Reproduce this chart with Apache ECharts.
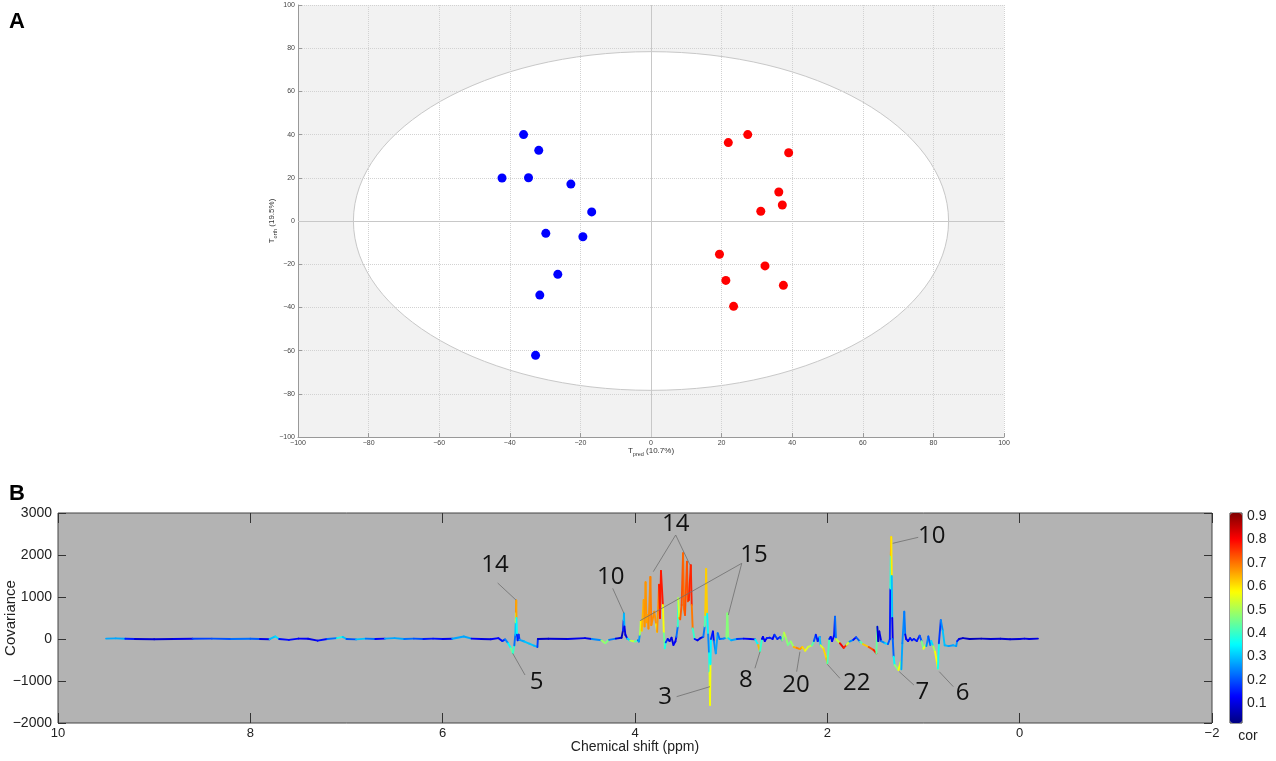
<!DOCTYPE html>
<html>
<head>
<meta charset="utf-8">
<title>OPLS-DA scores and loadings</title>
<script src="https://cdn.jsdelivr.net/npm/echarts@6/dist/echarts.min.js"></script>
<style>
  html, body { margin: 0; padding: 0; background: #fff; }
  #chart { width: 1276px; height: 761px; }
</style>
</head>
<body>
<div id="chart"></div>
<script>
// panel A: scores
var blueTpred = [-36.1, -31.8, -42.2, -34.7, -22.7, -16.8, -29.8, -19.3, -26.4, -31.5, -32.7];
var blueTorth = [40.0, 32.7, 19.9, 20.0, 17.1, 4.2, -5.7, -7.3, -24.7, -34.3, -62.2];
var redTpred = [27.4, 21.9, 39.0, 36.2, 37.2, 31.1, 19.4, 32.3, 21.2, 37.5, 23.4];
var redTorth = [40.0, 36.3, 31.6, 13.4, 7.4, 4.5, -15.4, -20.8, -27.5, -29.8, -39.5];
var ellipseCenter = [0, 0];
var ellipseRadii = [84.3, 78.4];

// panel B: covariance coloured by correlation
var shift = [9.50, 9.40, 9.30, 9.20, 9.00, 8.80, 8.60, 8.40, 8.20, 8.00, 7.90, 7.80, 7.74, 7.70, 7.60, 7.50, 7.40, 7.30, 7.20, 7.10,
  7.04, 7.00, 6.90, 6.80, 6.70, 6.60, 6.50, 6.40, 6.30, 6.20, 6.10, 6.00, 5.90, 5.78, 5.70, 5.60, 5.50, 5.42, 5.38, 5.35,
  5.32, 5.29, 5.27, 5.255, 5.245, 5.24, 5.238, 5.235, 5.232, 5.228, 5.22, 5.21, 5.20, 5.15, 5.10, 5.05, 5.015, 5.01, 4.90, 4.70,
  4.52, 4.45, 4.35, 4.31, 4.27, 4.20, 4.14, 4.125, 4.118, 4.115, 4.11, 4.10, 4.08, 4.05, 4.00, 3.97, 3.96, 3.95, 3.94, 3.93,
  3.91, 3.90, 3.89, 3.88, 3.87, 3.86, 3.84, 3.83, 3.80, 3.78, 3.77, 3.75, 3.74, 3.73, 3.71, 3.70, 3.69, 3.68, 3.66, 3.64,
  3.62, 3.60, 3.58, 3.57, 3.555, 3.55, 3.54, 3.53, 3.515, 3.50, 3.49, 3.48, 3.46, 3.45, 3.44, 3.42, 3.41, 3.40, 3.38, 3.35,
  3.32, 3.29, 3.275, 3.27, 3.26, 3.25, 3.24, 3.23, 3.225, 3.22, 3.215, 3.21, 3.19, 3.18, 3.16, 3.14, 3.12, 3.08, 3.05, 3.04,
  3.03, 3.00, 2.94, 2.87, 2.80, 2.75, 2.72, 2.70, 2.68, 2.67, 2.65, 2.63, 2.60, 2.57, 2.55, 2.52, 2.49, 2.47, 2.45, 2.43,
  2.41, 2.38, 2.35, 2.32, 2.285, 2.26, 2.23, 2.20, 2.16, 2.14, 2.12, 2.10, 2.08, 2.07, 2.04, 2.01, 2.00, 1.98, 1.965, 1.95,
  1.93, 1.92, 1.91, 1.87, 1.83, 1.80, 1.77, 1.73, 1.70, 1.66, 1.63, 1.57, 1.52, 1.49, 1.48, 1.47, 1.46, 1.44, 1.40, 1.37,
  1.35, 1.345, 1.34, 1.335, 1.33, 1.325, 1.32, 1.31, 1.30, 1.26, 1.24, 1.23, 1.22, 1.20, 1.19, 1.18, 1.16, 1.14, 1.12, 1.10,
  1.07, 1.04, 1.02, 1.00, 0.98, 0.97, 0.95, 0.93, 0.92, 0.90, 0.88, 0.86, 0.85, 0.84, 0.82, 0.80, 0.78, 0.74, 0.69, 0.66,
  0.65, 0.63, 0.59, 0.52, 0.40, 0.30, 0.20, 0.10, 0.00, -0.05, -0.10, -0.19];
var covariance = [10, 15, 5, 0, -5, 0, 5, 10, 0, 5, 0, -5, 60, 0, -20, 10, 5, -40, 0, 20,
  50, 0, -10, 10, 0, 10, 20, 0, 10, 0, 10, 0, 5, 60, 10, 0, -5, 20, -50, -10,
  -100, -220, -340, -150, 100, 400, 650, 920, 500, 100, -30, 100, -20, -60, -110, -160, -190, 0, 5, 0,
  20, 0, -30, -100, -20, 10, 30, 200, 450, 610, 300, 100, 10, -40, -60, -30, -60, 100, 420, 200,
  930, 300, 1350, 400, 570, 250, 1480, 330, 650, 350, 170, 1290, 500, 1620, 810, 140, -220, -80, 0, -50,
  30, -140, -60, 50, 300, 970, 500, 470, 810, 2040, 700, 570, 1840, 900, 930, 1760, 810, 250, 0, -30,
  20, 50, 300, 570, 1670, 600, 110, -340, -800, -1570, -600, 0, 180, -50, -340, 140, 0, 10, 30, 610,
  20, -30, 0, 10, 0, -10, -140, -300, 0, 50, -50, 20, 30, 0, 100, 0, 50, -30, 150, 20,
  -140, -60, -190, -210, -240, -190, -280, -190, -150, -50, 100, -50, 50, -150, -230, -460, -580, 0, 50, -50,
  80, 530, 0, -100, -210, -140, -60, -20, 40, -60, -120, -190, -260, -340, 290, -50, 180, -50, -100, -120,
  0, 1200, 2000, 2430, 1500, 500, 0, -420, -620, -740, -560, -720, -100, 650, 110, 0, -50, 20, -30, 0,
  -50, 80, -50, -230, -150, -170, 60, -140, -50, -170, -300, -560, -710, -100, 450, 200, -150, -170, -150, -170,
  -50, 0, 20, 0, 10, 0, 5, -5, 0, 10, 0, 10];
var correlation = [0.2, 0.35, 0.2, 0.1, 0.08, 0.1, 0.12, 0.25, 0.15, 0.3, 0.12, 0.1, 0.5, 0.15, 0.12, 0.15, 0.1, 0.12, 0.15, 0.3,
  0.45, 0.15, 0.25, 0.35, 0.1, 0.15, 0.4, 0.15, 0.3, 0.1, 0.2, 0.08, 0.15, 0.4, 0.15, 0.1, 0.1, 0.15, 0.12, 0.2,
  0.3, 0.4, 0.5, 0.3, 0.15, 0.45, 0.62, 0.76, 0.55, 0.15, 0.2, 0.1, 0.25, 0.3, 0.3, 0.3, 0.28, 0.08, 0.08, 0.1,
  0.12, 0.1, 0.4, 0.58, 0.35, 0.12, 0.08, 0.06, 0.25, 0.42, 0.15, 0.06, 0.15, 0.5, 0.55, 0.3, 0.12, 0.4, 0.6, 0.58,
  0.7, 0.62, 0.72, 0.62, 0.7, 0.62, 0.74, 0.64, 0.72, 0.62, 0.52, 0.82, 0.74, 0.82, 0.74, 0.4, 0.5, 0.25, 0.1, 0.12,
  0.1, 0.1, 0.15, 0.1, 0.35, 0.45, 0.62, 0.72, 0.72, 0.74, 0.68, 0.72, 0.74, 0.72, 0.74, 0.8, 0.74, 0.65, 0.15, 0.12,
  0.1, 0.12, 0.35, 0.5, 0.74, 0.5, 0.2, 0.3, 0.45, 0.64, 0.5, 0.2, 0.12, 0.15, 0.35, 0.2, 0.25, 0.2, 0.3, 0.64,
  0.3, 0.35, 0.2, 0.15, 0.1, 0.12, 0.58, 0.7, 0.1, 0.1, 0.15, 0.1, 0.2, 0.1, 0.15, 0.2, 0.1, 0.3, 0.64, 0.4,
  0.55, 0.35, 0.62, 0.67, 0.7, 0.62, 0.6, 0.5, 0.55, 0.3, 0.1, 0.2, 0.1, 0.5, 0.58, 0.64, 0.64, 0.2, 0.1, 0.15,
  0.1, 0.2, 0.25, 0.8, 0.82, 0.72, 0.35, 0.15, 0.12, 0.3, 0.55, 0.7, 0.76, 0.8, 0.08, 0.1, 0.06, 0.15, 0.35, 0.3,
  0.1, 0.2, 0.58, 0.74, 0.45, 0.15, 0.08, 0.35, 0.35, 0.6, 0.55, 0.4, 0.15, 0.35, 0.12, 0.1, 0.15, 0.1, 0.2, 0.1,
  0.2, 0.1, 0.3, 0.62, 0.5, 0.4, 0.1, 0.3, 0.2, 0.45, 0.55, 0.6, 0.58, 0.15, 0.2, 0.3, 0.3, 0.28, 0.25, 0.32,
  0.2, 0.1, 0.08, 0.08, 0.06, 0.1, 0.08, 0.1, 0.08, 0.12, 0.08, 0.12];

// peak labels and their leader lines
var labelText = ['14', '5', '10', '14', '15', '3', '8', '20', '22', '10', '7', '6'];
var labelShift = [5.456, 5.022, 4.253, 3.577, 2.763, 3.688, 2.846, 2.326, 1.695, 0.915, 1.013, 0.593];
var labelCov = [1762, -1016, 1484, 2730, 2000, -1373, -976, -1095, -1056, 2437, -1254, -1294];
var leaderFromShift = [5.428, 5.144, 4.232, 3.577, 3.577, 2.89, 2.89, 3.567, 2.753, 2.319, 1.869, 1.055, 1.10, 0.69];
var leaderFromCov = [1333, -857, 1206, 2476, 2476, 1802, 1802, -1373, -698, -778, -937, 2421, -1095, -1135];
var leaderToShift = [5.238, 5.272, 4.115, 3.81, 3.428, 3.948, 3.03, 3.22, 2.70, 2.285, 2.0, 1.32, 1.252, 0.836];
var leaderToCov = [929, -341, 611, 1603, 1762, 436, 571, -1135, -302, -302, -603, 2278, -778, -778];

var corTicks = [0.1, 0.2, 0.3, 0.4, 0.5, 0.6, 0.7, 0.8, 0.9];
var jet = ['#000080', '#0000ff', '#0080ff', '#00ffff', '#80ff80', '#ffff00', '#ff8000', '#ff0000', '#800000'];

var minus = function (v) { return String(v).replace('-', '\u2212'); };

var pairs = function (xs, ys) {
  var out = [];
  for (var i = 0; i < xs.length; i++) out.push([xs[i], ys[i]]);
  return out;
};

// one segment per neighbouring pair of points, coloured by their mean correlation
var segments = [];
for (var i = 0; i < shift.length - 1; i++) {
  segments.push([shift[i], covariance[i], shift[i + 1], covariance[i + 1], (correlation[i] + correlation[i + 1]) / 2]);
}
var leaders = [];
for (var j = 0; j < leaderFromShift.length; j++) {
  leaders.push([leaderFromShift[j], leaderFromCov[j], leaderToShift[j], leaderToCov[j]]);
}

var chart = echarts.init(document.getElementById('chart'));

var smallAxisLabel = { fontSize: 7, color: '#444', fontFamily: 'Liberation Sans', margin: 3, formatter: minus };
var subName = { rich: { m: { fontSize: 8, color: '#333' }, s: { fontSize: 5.5, color: '#333', padding: [6, 0, 0, 0] } } };

chart.setOption({
  animation: false,
  textStyle: { fontFamily: 'Liberation Sans' },
  title: [
    { text: 'A', left: 4, top: 6, textStyle: { fontSize: 22, fontWeight: 'bold', color: '#000' } },
    { text: 'B', left: 4, top: 478, textStyle: { fontSize: 22, fontWeight: 'bold', color: '#000' } }
  ],
  grid: [
    { left: 298, top: 5, width: 706, height: 432, show: true, backgroundColor: '#f2f2f2', borderWidth: 0, outerBoundsMode: 'none', containLabel: false },
    { left: 58, top: 513, width: 1154, height: 210, show: true, backgroundColor: '#b3b3b3', borderColor: '#444', borderWidth: 1, outerBoundsMode: 'none', containLabel: false },
    { left: 1230, top: 513, width: 12, height: 210, show: true, backgroundColor: 'transparent', borderColor: '#333', borderWidth: 1, outerBoundsMode: 'none', containLabel: false }
  ],
  xAxis: [
    {
      gridIndex: 0, type: 'value', min: -100, max: 100, interval: 20, z: 3,
      name: '{m|T}{s|pred}{m| (10.7%)}', nameLocation: 'middle', nameGap: 8, nameMoveOverlap: false, nameTextStyle: subName,
      axisLine: { onZero: false, lineStyle: { color: '#999' } },
      axisTick: { inside: true, length: 4, lineStyle: { color: '#999' } },
      axisLabel: smallAxisLabel,
      splitLine: { show: true, lineStyle: { color: '#d2d2d2', type: 'dotted' } }
    },
    {
      gridIndex: 1, type: 'value', min: -2, max: 10, interval: 2, inverse: true,
      name: 'Chemical shift (ppm)', nameLocation: 'middle', nameGap: 17, nameMoveOverlap: false,
      nameTextStyle: { fontSize: 14, color: '#222' },
      axisLine: { show: false, onZero: false },
      axisTick: { inside: true, length: 10, lineStyle: { color: '#333' } },
      axisLabel: { fontSize: 13, color: '#222', margin: 4, formatter: minus },
      splitLine: { show: false }
    },
    {
      gridIndex: 1, type: 'value', min: -2, max: 10, interval: 2, inverse: true, position: 'top',
      axisLine: { show: false, onZero: false },
      axisTick: { inside: true, length: 10, lineStyle: { color: '#333' } },
      axisLabel: { show: false },
      splitLine: { show: false }
    },
    {
      gridIndex: 2, type: 'value', min: 0, max: 1,
      name: 'cor', nameLocation: 'middle', nameGap: 6, nameMoveOverlap: false,
      nameTextStyle: { fontSize: 14, color: '#222', padding: [0, 0, 0, 24] },
      axisLine: { show: false, onZero: false }, axisTick: { show: false }, axisLabel: { show: false }, splitLine: { show: false }
    }
  ],
  yAxis: [
    {
      gridIndex: 0, type: 'value', min: -100, max: 100, interval: 20, z: 3,
      name: '{m|T}{s|orth}{m| (19.5%)}', nameLocation: 'middle', nameGap: 20, nameMoveOverlap: false, nameTextStyle: subName,
      axisLine: { onZero: false, lineStyle: { color: '#999' } },
      axisTick: { inside: true, length: 4, lineStyle: { color: '#999' } },
      axisLabel: smallAxisLabel,
      splitLine: { show: true, lineStyle: { color: '#d2d2d2', type: 'dotted' } }
    },
    {
      gridIndex: 1, type: 'value', min: -2000, max: 3000, interval: 1000,
      name: 'Covariance', nameLocation: 'middle', nameGap: 40, nameMoveOverlap: false,
      nameTextStyle: { fontSize: 15, color: '#222' },
      axisLine: { show: false, onZero: false },
      axisTick: { inside: true, length: 8, lineStyle: { color: '#333' } },
      axisLabel: { fontSize: 14, color: '#222', margin: 6, formatter: minus },
      splitLine: { show: false }
    },
    {
      gridIndex: 1, type: 'value', min: -2000, max: 3000, interval: 1000, position: 'right',
      axisLine: { show: false, onZero: false },
      axisTick: { inside: true, length: 8, lineStyle: { color: '#333' } },
      axisLabel: { show: false },
      splitLine: { show: false }
    },
    {
      gridIndex: 2, type: 'value', min: 0.016, max: 0.913, position: 'right',
      axisLine: { show: false, onZero: false },
      axisTick: { show: true, inside: true, length: 2, customValues: corTicks, lineStyle: { color: '#333' } },
      axisLabel: { show: true, customValues: corTicks, fontSize: 14, color: '#222', margin: 5,
        formatter: function (v) { return v.toFixed(1); } },
      splitLine: { show: false }
    }
  ],
  visualMap: {
    type: 'continuous', seriesIndex: 3, dimension: 4, min: 0.016, max: 0.913,
    inRange: { color: jet }, orient: 'vertical', left: 1230, top: 513,
    itemWidth: 12, itemHeight: 210, padding: 0, calculable: false, hoverLink: false
  },
  series: [
    {
      // confidence ellipse
      type: 'custom', xAxisIndex: 0, yAxisIndex: 0, z: 1, silent: true,
      data: [[ellipseCenter[0], ellipseCenter[1], ellipseRadii[0], ellipseRadii[1]]],
      encode: { x: 0, y: 1 },
      renderItem: function (params, api) {
        var c = api.coord([api.value(0), api.value(1)]);
        var r = api.size([api.value(2), api.value(3)]);
        return {
          type: 'ellipse',
          shape: { cx: c[0], cy: c[1], rx: r[0], ry: r[1] },
          style: { fill: '#fff', stroke: '#c8c8c8', lineWidth: 1 }
        };
      }
    },
    {
      type: 'scatter', xAxisIndex: 0, yAxisIndex: 0, z: 5, symbolSize: 9,
      itemStyle: { color: '#0000ff', opacity: 1 },
      data: pairs(blueTpred, blueTorth),
      markLine: {
        silent: true, symbol: 'none', label: { show: false },
        lineStyle: { color: '#c8c8c8', type: 'solid', width: 1 },
        data: [{ xAxis: 0 }, { yAxis: 0 }]
      }
    },
    {
      type: 'scatter', xAxisIndex: 0, yAxisIndex: 0, z: 5, symbolSize: 9,
      itemStyle: { color: '#ff0000', opacity: 1 },
      data: pairs(redTpred, redTorth)
    },
    {
      // spectrum
      type: 'custom', xAxisIndex: 1, yAxisIndex: 1, z: 3, silent: true,
      data: segments,
      encode: { x: [0, 2], y: [1, 3] },
      renderItem: function (params, api) {
        var p1 = api.coord([api.value(0), api.value(1)]);
        var p2 = api.coord([api.value(2), api.value(3)]);
        return {
          type: 'line',
          shape: { x1: p1[0], y1: p1[1], x2: p2[0], y2: p2[1] },
          style: { stroke: api.visual('color'), lineWidth: 1.9, lineCap: 'round' }
        };
      }
    },
    {
      // leader lines
      type: 'custom', xAxisIndex: 1, yAxisIndex: 1, z: 4, silent: true,
      data: leaders,
      encode: { x: [0, 2], y: [1, 3] },
      renderItem: function (params, api) {
        var p1 = api.coord([api.value(0), api.value(1)]);
        var p2 = api.coord([api.value(2), api.value(3)]);
        return {
          type: 'line',
          shape: { x1: p1[0], y1: p1[1], x2: p2[0], y2: p2[1] },
          style: { stroke: '#6e6e6e', lineWidth: 0.8 }
        };
      }
    },
    {
      // peak numbers
      type: 'custom', xAxisIndex: 1, yAxisIndex: 1, z: 5, silent: true,
      data: pairs(labelShift, labelCov),
      encode: { x: 0, y: 1 },
      renderItem: function (params, api) {
        var p = api.coord([api.value(0), api.value(1)]);
        return {
          type: 'text', x: p[0], y: p[1],
          style: { text: labelText[params.dataIndex], fill: '#111', font: '24px "Open Sans"', align: 'center', verticalAlign: 'middle' }
        };
      }
    }
  ]
});
</script>
</body>
</html>
